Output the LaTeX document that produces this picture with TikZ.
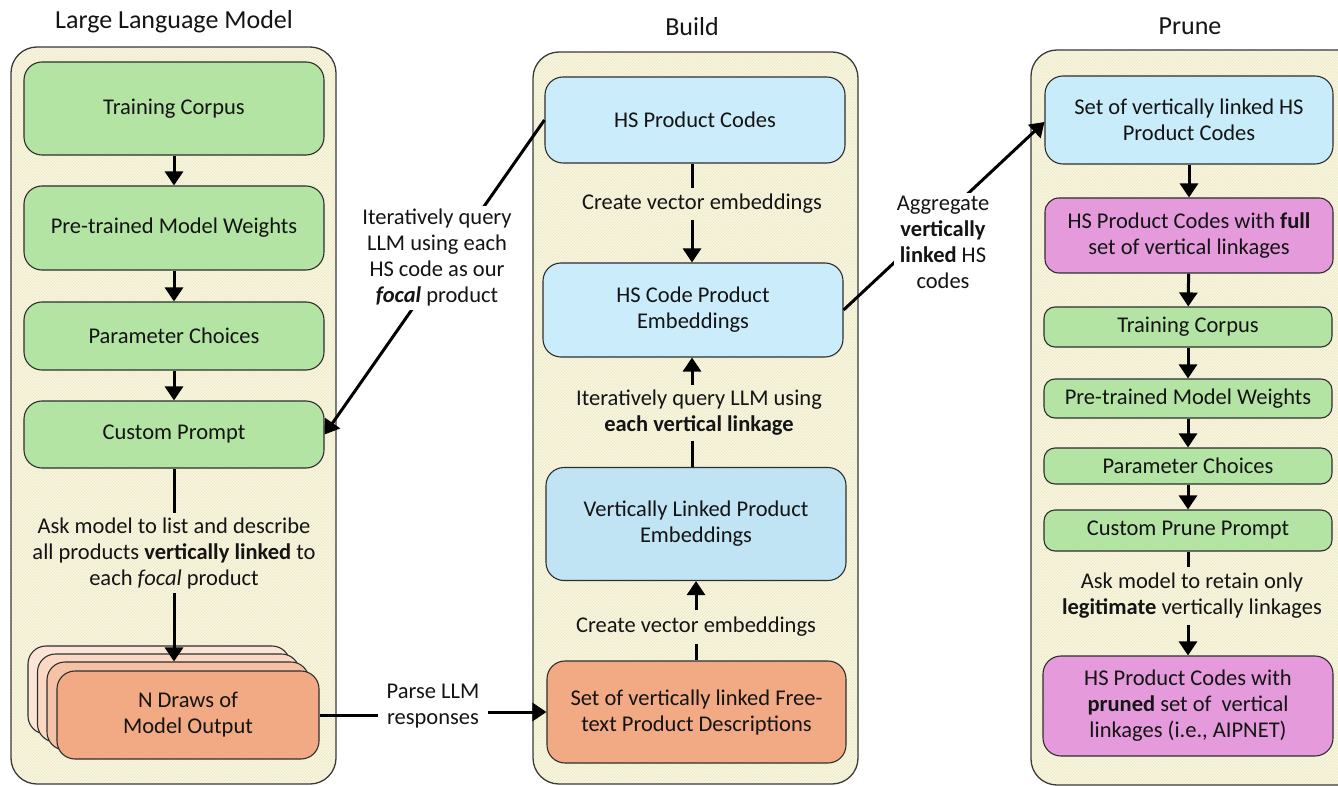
\documentclass[tikz,border=0pt]{standalone}
\usepackage{fontspec}
\setmainfont{Carlito}
\usetikzlibrary{arrows.meta,patterns,calc}
\definecolor{panelfill}{HTML}{F8F6E2}
\definecolor{panelhatch}{HTML}{ECE7C2}
\definecolor{panelline}{HTML}{3A3A3A}
\definecolor{boxline}{HTML}{2E2E2E}
\definecolor{gfill}{HTML}{B4E4A3}
\definecolor{bfill}{HTML}{CBEDFB}
\definecolor{bfilldark}{HTML}{C0E4F4}
\definecolor{ofill}{HTML}{F2AA84}
\definecolor{ofillA}{HTML}{FCE5D7}
\definecolor{ofillB}{HTML}{FAD8C4}
\definecolor{ofillC}{HTML}{F6C2A5}
\definecolor{mfill}{HTML}{E49ADB}
\begin{document}
\begin{tikzpicture}[x=1pt,y=-1pt,
  panel/.style={draw=panelline, line width=1.3pt, rounded corners=26pt,
    preaction={fill=panelfill}, pattern=north east lines, pattern color=panelhatch},
  bx/.style={draw=boxline, line width=1.1pt, rounded corners=18pt, align=center,
    inner sep=2pt, font=\fontsize{22.5}{26}\selectfont, text=black!92},
  sbx/.style={bx, rounded corners=11pt},
  gbox/.style={bx, fill=gfill},
  gsbox/.style={sbx, fill=gfill},
  bbox/.style={bx, fill=bfill},
  obox/.style={bx, fill=ofill},
  mbox/.style={bx, fill=mfill},
  lab/.style={align=center, font=\fontsize{22.5}{26}\selectfont, text=black!92},
  ttl/.style={font=\fontsize{26}{30}\selectfont, text=black!92},
  ln/.style={line width=3pt, draw=black},
  arr/.style={ln, -{Triangle[width=18pt,length=14pt]}}
]
\useasboundingbox (0,0) rectangle (1338,786);

% panels
\draw[panel] (11,47) rectangle (336,784);
\draw[panel] (533,52) rectangle (858,784);
\draw[panel] (1031,50) rectangle (1380,785);

% titles
\node[ttl] (t1) at (174,22) {Large Language Model};
\node[ttl] (t2) at (692,27) {Build};
\node[ttl] (t3) at (1190,26) {Prune};

% left column
\node[gbox, minimum width=300pt, minimum height=93pt] (lc1) at (174,108.5) {Training Corpus};
\node[gbox, minimum width=300pt, minimum height=84pt] (lc2) at (174,228) {Pre-trained Model Weights};
\node[gbox, minimum width=300pt, minimum height=68pt] (lc3) at (174,336) {Parameter Choices};
\node[gbox, minimum width=300pt, minimum height=67pt] (lc4) at (174,434.5) {Custom Prompt};

\node[bx, fill=ofillA, minimum width=262pt, minimum height=88pt] (s1) at (159,690) {};
\node[bx, fill=ofillB, minimum width=262pt, minimum height=88pt] (s2) at (168.5,698) {};
\node[bx, fill=ofillC, minimum width=262pt, minimum height=88pt] (s3) at (178,706) {};
\node[obox, minimum width=262pt, minimum height=88pt] (s4) at (188,715) {N Draws of\\Model Output};

\node[lab, inner sep=4pt] (llab) at (174,553) {Ask model to list and describe\\all products \textbf{vertically linked} to\\each \textit{focal} product};

\draw[arr] (lc1) -- (lc2);
\draw[arr] (lc2) -- (lc3);
\draw[arr] (lc3) -- (lc4);
\draw[ln] (lc4.south) -- (lc4.south |- llab.north);
\draw[arr] (lc4.south |- llab.south) -- (lc4.south |- s3.north);

% middle column
\node[bbox, minimum width=300pt, minimum height=86pt] (m1) at (695,120) {HS Product Codes};
\node[bbox, minimum width=300pt, minimum height=94pt] (m2) at (693,310) {HS Code Product\\Embeddings};
\node[bx, fill=bfilldark, minimum width=300pt, minimum height=113pt] (m3) at (696,524) {Vertically Linked Product\\Embeddings};
\node[obox, minimum width=299pt, minimum height=102pt] (m4) at (696.5,712) {Set of vertically linked Free-\\text Product Descriptions};

\node[lab, inner sep=6pt] (mlab1) at (702,204) {Create vector embeddings};
\node[lab, inner sep=5pt] (mlab2) at (699,413) {Iteratively query LLM using\\\textbf{each vertical linkage}};
\node[lab, inner sep=7pt] (mlab3) at (696,627) {Create vector embeddings};

\draw[ln] (m1.south -| 692,0) -- (692,0 |- mlab1.north);
\draw[arr] (692,0 |- mlab1.south) -- (m2.north -| 692,0);
\draw[ln] (m3.north -| 692,0) -- (692,0 |- mlab2.south);
\draw[arr] (692,0 |- mlab2.north) -- (m2.south -| 692,0);
\draw[ln] (m4.north -| 696,0) -- (696,0 |- mlab3.south);
\draw[arr] (696,0 |- mlab3.north) -- (m3.south -| 696,0);

% right column
\node[bx, fill=bfill!85!bfilldark, minimum width=288pt, minimum height=88pt] (r1) at (1189,120) {Set of vertically linked HS\\Product Codes};
\node[mbox, rounded corners=14pt, minimum width=288pt, minimum height=75pt] (r2) at (1189,235.5) {HS Product Codes with \textbf{full}\\set of vertical linkages};
\node[gsbox, minimum width=288pt, minimum height=40pt] (r3) at (1188,327) {Training Corpus};
\node[gsbox, minimum width=288pt, minimum height=39pt] (r4) at (1188,398.5) {Pre-trained Model Weights};
\node[gsbox, minimum width=288pt, minimum height=36pt] (r5) at (1188,466) {Parameter Choices};
\node[gsbox, minimum width=288pt, minimum height=41pt] (r6) at (1188,530.5) {Custom Prune Prompt};
\node[lab, inner sep=6pt] (rlab) at (1192,596) {Ask model to retain only\\\textbf{legitimate} vertically linkages};
\node[mbox, minimum width=290pt, minimum height=100pt] (r7) at (1188,706) {HS Product Codes with\\\textbf{pruned} set of~ vertical\\linkages (i.e., AIPNET)};

\draw[arr] (r1) -- (r2);
\draw[arr] (r2) -- (r3);
\draw[arr] (r3) -- (r4);
\draw[arr] (r4) -- (r5);
\draw[arr] (r5) -- (r6);
\draw[ln] (r6.south) -- (r6.south |- rlab.north);
\draw[arr] (r6.south |- rlab.south) -- (r7.north);

% cross-panel connectors
\draw[arr] (m1.west) -- (lc4.east);
\node[lab, fill=white, inner sep=3pt] (xlab1) at (437,258) {Iteratively query\\LLM using each\\HS code as our\\\textbf{\textit{focal}} product};

\draw[arr] (m2.east) -- ($(r1.west)+(0,2)$);
\node[lab, fill=white, inner sep=3pt] (xlab2) at (943,242) {Aggregate\\\textbf{vertically}\\\textbf{linked} HS\\codes};

\node[lab, inner sep=8pt] (xlab3) at (433,706) {Parse LLM\\responses};
\draw[ln] (s4.east) -- (xlab3.west |- s4.east);
\draw[arr] (xlab3.east |- m4.west) -- (m4.west);
\end{tikzpicture}
\end{document}
